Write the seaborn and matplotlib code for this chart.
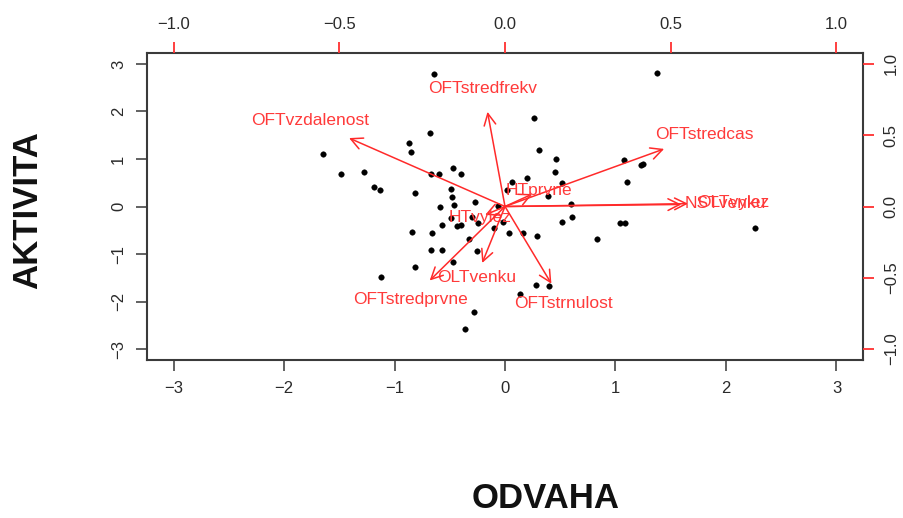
import matplotlib
matplotlib.use("Agg")
import matplotlib.pyplot as plt
import seaborn as sns
import pandas as pd

# skore jedincu (ODVAHA x AKTIVITA)
odvaha = [-0.64, -0.68, -0.87, -0.85, -1.65, -1.48, -1.28, -1.19, -1.13, -0.81,
          -0.67, -0.60, -0.47, -0.40, -0.49, -0.48, -0.46, -0.59, -0.27, 0.06,
          0.02, -0.06, -0.57, -0.49, -0.43, -0.40, -0.24, -0.02, 0.20, 0.45,
          0.52, 0.39, 0.60, 0.61, 0.52, -0.10, 0.04, 0.16, 0.29, -0.33,
          -0.25, -0.66, -0.84, -0.67, -0.57, -0.47, -0.81, -1.12, -0.28, -0.36,
          0.28, 0.40, 0.14, 0.83, 0.46, 2.26, 1.04, 1.09, 1.38, 0.26,
          0.31, 1.08, 1.23, 1.25, 1.10, -0.30]
aktivita = [2.79, 1.55, 1.34, 1.15, 1.11, 0.68, 0.73, 0.41, 0.35, 0.28,
            0.68, 0.68, 0.81, 0.68, 0.37, 0.20, 0.03, -0.01, 0.09, 0.52,
            0.35, 0.01, -0.39, -0.24, -0.41, -0.39, -0.35, -0.33, 0.60, 0.73,
            0.49, 0.22, 0.05, -0.22, -0.33, -0.45, -0.56, -0.56, -0.62, -0.68,
            -0.94, -0.56, -0.54, -0.92, -0.92, -1.17, -1.27, -1.48, -2.22, -2.58,
            -1.65, -1.67, -1.84, -0.68, 1.00, -0.45, -0.35, -0.35, 2.81, 1.86,
            1.19, 0.98, 0.87, 0.89, 0.52, -0.22]

# zatizeni promennych
promenne = ["OFTvzdalenost", "OFTstredfrekv", "OFTstredcas", "HTprvne",
            "NSTvenku", "OLTvylez", "HTvylez", "OLTvenku",
            "OFTstredprvne", "OFTstrnulost"]
zat1 = [-0.588, -0.066, 0.600, 0.103, 0.665, 0.690, -0.075, -0.086, -0.284, 0.175]
zat2 = [0.600, 0.830, 0.505, 0.109, 0.018, 0.025, -0.074, -0.495, -0.649, -0.677]

sns.set_style("ticks")
plt.rcParams['font.family'] = ['Liberation Sans', 'DejaVu Sans']

fig = plt.figure(figsize=(9.04, 5.18), dpi=100)
pos = [147 / 904, 1 - 360 / 518, (863 - 147) / 904, (360 - 53) / 518]
ax = fig.add_axes(pos)

df = pd.DataFrame({'odvaha': odvaha, 'aktivita': aktivita})
sns.scatterplot(data=df, x='odvaha', y='aktivita', ax=ax, color='black',
                s=16, edgecolor='black', linewidth=0.3, zorder=3)

ax.set_xlim(-3.24, 3.24)
ax.set_ylim(-3.23, 3.23)
ax.set_xticks([-3, -2, -1, 0, 1, 2, 3])
ax.set_yticks([-3, -2, -1, 0, 1, 2, 3])
ax.set_xlabel('')
ax.set_ylabel('')
ax.tick_params(axis='both', direction='out', length=8, width=1.3, color='#555555',
               labelsize=12, labelcolor='#2a2a2a', pad=7)
for lab in ax.get_yticklabels():
    lab.set_rotation(90)
    lab.set_va('center')
for sp in ax.spines.values():
    sp.set_color('#3a3a3a')
    sp.set_linewidth(1.5)

# druha soustava pro sipky
ax2 = fig.add_axes(pos, frameon=False)
ax2.set_xlim(-1.08, 1.08)
ax2.set_ylim(-1.0767, 1.0767)
ax2.xaxis.tick_top()
ax2.yaxis.tick_right()
ax2.set_xticks([-1.0, -0.5, 0.0, 0.5, 1.0])
ax2.set_yticks([-1.0, -0.5, 0.0, 0.5, 1.0])
ax2.set_xticklabels(['−1.0', '−0.5', '0.0', '0.5', '1.0'])
ax2.set_yticklabels(['−1.0', '−0.5', '0.0', '0.5', '1.0'], rotation=90, va='center')
ax2.tick_params(axis='both', direction='out', length=8, width=1.3, color='#ff3030',
                labelsize=12, labelcolor='#2a2a2a', pad=7)
ax2.patch.set_alpha(0)

for name, a, b in zip(promenne, zat1, zat2):
    ax2.annotate('', xy=(0.8 * a, 0.8 * b), xytext=(0, 0),
                 arrowprops=dict(arrowstyle='->,head_length=0.6,head_width=0.3',
                                 color='#ff2a2a', lw=1.1, shrinkA=0, shrinkB=0,
                                 mutation_scale=14))
    ax2.text(a, b, name, color='#ff3a3a', fontsize=12.5, ha='center', va='center')

fig.text(28 / 904, 1 - 210 / 518, 'AKTIVITA', rotation=90, fontsize=25,
         fontweight='bold', ha='center', va='center', color='#111111')
fig.text(546 / 904, 1 - 498 / 518, 'ODVAHA', fontsize=25,
         fontweight='bold', ha='center', va='center', color='#111111')

fig.savefig('out.png', dpi=100)
